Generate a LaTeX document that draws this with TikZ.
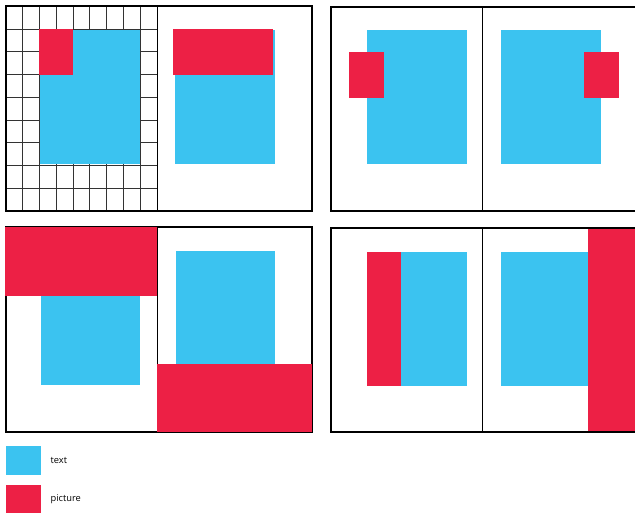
\documentclass[tikz,border=0pt]{standalone}
\usepackage{fontspec}
\setmainfont{Open Sans}
\usetikzlibrary{positioning}

\definecolor{textblue}{RGB}{59,195,240}
\definecolor{picred}{RGB}{237,32,69}

\begin{document}
\begin{tikzpicture}[x=1pt,y=-1pt,
  textblock/.style={fill=textblue},
  picblock/.style={fill=picred},
  spread/.style={draw=black,line width=1.8pt},
  spine/.style={draw=black,line width=0.9pt},
  gridline/.style={draw=black!80,line width=0.9pt},
  swatch/.style={minimum width=35.3pt,minimum height=29.3pt,inner sep=0pt,anchor=north west},
  legendlabel/.style={font=\fontsize{9.3}{11}\selectfont,inner sep=0pt}]

\useasboundingbox (0,0) rectangle (635,513);

% Spread 1 -- left page on a grid, picture in the corner fields
\foreach \i in {1,...,8}
  \draw[gridline] ({5.7+\i*16.84},6.3) -- ({5.7+\i*16.84},211);
\foreach \j in {1,...,8}
  \draw[gridline] (5.7,{6.3+\j*22.74}) -- (157.3,{6.3+\j*22.74});
\fill[textblock] (40,30) rectangle (140,164.3);
\fill[picblock] (39.3,29) rectangle (73.3,74.7);
\fill[textblock] (175,30) rectangle (275,164.3);
\fill[picblock] (173.3,29) rectangle (273.3,74.7);
\draw[spread] (5.7,6.3) rectangle (312.3,211);
\draw[spine] (157.3,6.3) -- (157.3,211);

% Spread 2 -- pictures sticking out into the outer margins
\fill[textblock] (367.3,30) rectangle (466.7,164.3);
\fill[picblock] (349.3,51.7) rectangle (384,97.7);
\fill[textblock] (501,30) rectangle (601,164.3);
\fill[picblock] (584,51.7) rectangle (618.7,97.7);
\draw[spread] (331,6.7) rectangle (640,211);
\draw[spine] (482.7,6.7) -- (482.7,211);

% Spread 3 -- bleeding pictures at top and bottom
\draw[spread] (5.7,227.3) rectangle (312.3,432.3);
\draw[spine] (157.3,227.3) -- (157.3,432.3);
\fill[textblock] (40.7,251) rectangle (140,385);
\fill[textblock] (175.7,251) rectangle (275,385);
\fill[picblock] (5,227.3) rectangle (157.3,295.7);
\fill[picblock] (156.7,364) rectangle (312.3,432.3);

% Spread 4 -- column picture and bleeding side picture
\fill[textblock] (367.3,251.7) rectangle (466.7,386);
\fill[picblock] (367.3,251.7) rectangle (401,386);
\fill[textblock] (501,251.7) rectangle (600,386);
\fill[picblock] (588.3,228.3) rectangle (640,432.3);
\draw[spread] (331,228.3) rectangle (640,432.3);
\draw[spine] (482.7,228.3) -- (482.7,432.3);

% Legend
\node[swatch,textblock] (textkey) at (5.7,445.7) {};
\node[legendlabel,right=9pt of textkey] (textlabel) {text};
\node[swatch,picblock] (pickey) at (5.7,484.3) {};
\node[legendlabel,right=9pt of pickey] (piclabel) {picture};

\end{tikzpicture}
\end{document}
